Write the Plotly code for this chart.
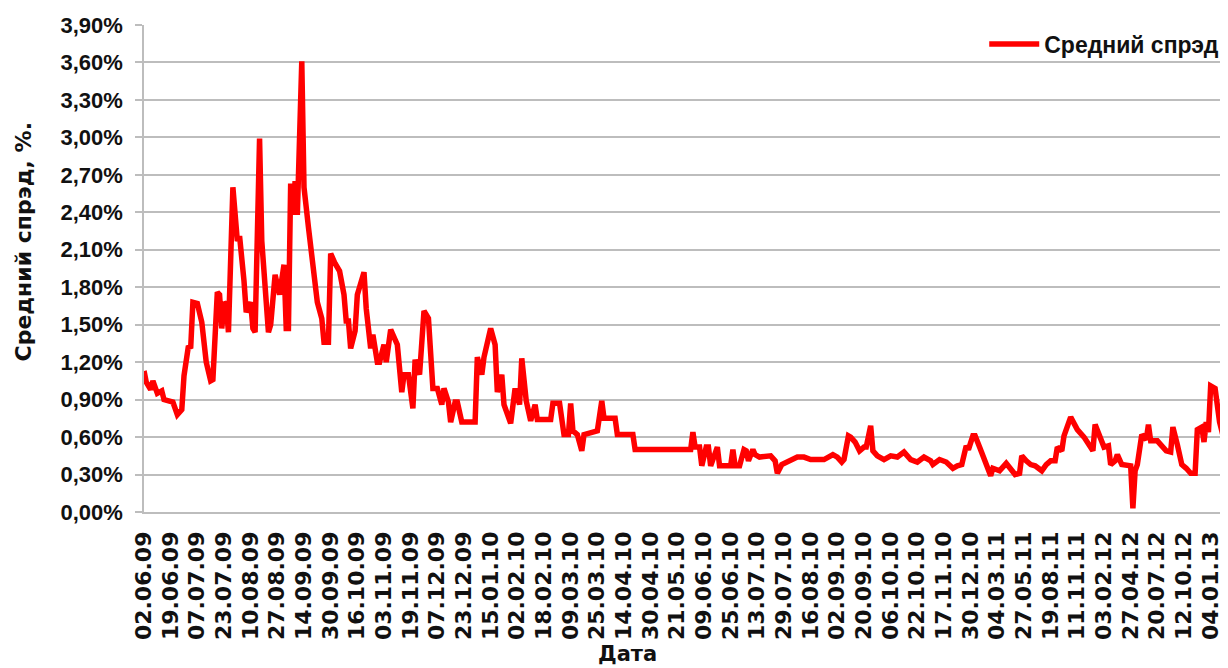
import plotly.graph_objects as go

# Tick labels (one every 12 categories)
tick_labels = [
    "02.06.09", "19.06.09", "07.07.09", "23.07.09", "10.08.09", "27.08.09",
    "14.09.09", "30.09.09", "16.10.09", "03.11.09", "19.11.09", "07.12.09",
    "23.12.09", "15.01.10", "02.02.10", "18.02.10", "09.03.10", "25.03.10",
    "14.04.10", "30.04.10", "21.05.10", "09.06.10", "25.06.10", "13.07.10",
    "29.07.10", "16.08.10", "02.09.10", "20.09.10", "06.10.10", "22.10.10",
    "17.11.10", "30.12.10", "04.03.11", "27.05.11", "19.08.11", "11.11.11",
    "03.02.12", "27.04.12", "20.07.12", "12.10.12", "04.01.13",
]
tick_step = 12
n_categories = 487

# Observation index (category number) and average spread, %
obs_index = [
    0, 1, 3, 4, 6, 8, 9, 12, 13, 15, 17, 18, 20, 21, 22, 24, 26, 28, 30, 31,
    33, 34, 35, 36, 37, 38, 40, 42, 43, 45, 46, 48, 49, 50, 52, 53, 54, 56, 57, 59,
    61, 63, 64, 65, 66, 67, 68, 69, 71, 72, 74, 76, 78, 80, 81, 83, 84, 86, 88, 90,
    91, 92, 93, 95, 96, 99, 100, 102, 103, 105, 106, 108, 109, 111, 114, 116, 117, 119, 121, 122,
    124, 126, 128, 130, 132, 134, 135, 137, 138, 140, 141, 143, 149, 150, 152, 153, 156, 158, 159, 161,
    162, 165, 167, 169, 170, 172, 174, 176, 177, 183, 184, 187, 189, 191, 192, 193, 195, 197, 198, 204,
    206, 207, 212, 213, 220, 221, 246, 247, 248, 250, 251, 253, 254, 255, 257, 258, 259, 264, 265, 266,
    268, 270, 271, 272, 274, 275, 277, 280, 282, 284, 285, 287, 289, 291, 294, 297, 300, 303, 306, 309,
    310, 312, 314, 315, 317, 318, 320, 322, 324, 325, 327, 328, 330, 333, 336, 339, 342, 345, 348, 351,
    354, 355, 358, 361, 364, 366, 368, 370, 371, 373, 374, 376, 378, 381, 382, 385, 388, 390, 392, 394,
    395, 397, 399, 401, 404, 406, 408, 410, 411, 413, 414, 417, 418, 420, 423, 424, 426, 427, 428, 430,
    432, 434, 435, 437, 438, 440, 443, 444, 445, 446, 447, 449, 451, 452, 453, 456, 458, 460, 462, 463,
    465, 467, 469, 471, 473, 474, 476, 477, 478, 479, 480, 482, 484, 486,
]
spread = [
    1.13, 1.04, 0.98, 1.05, 0.95, 0.97, 0.90, 0.89, 0.88, 0.78, 0.82, 1.09, 1.33, 1.31, 1.68, 1.67, 1.52, 1.20, 1.05, 1.06,
    1.76, 1.74, 1.47, 1.68, 1.66, 1.44, 2.60, 2.17, 2.21, 1.85, 1.60, 1.68, 1.47, 1.44, 2.99, 2.17, 1.87, 1.44, 1.50, 1.90,
    1.74, 1.98, 1.47, 1.47, 2.63, 2.38, 2.65, 2.38, 3.61, 2.60, 2.28, 1.95, 1.68, 1.55, 1.36, 1.36, 2.07, 1.99, 1.93, 1.74,
    1.53, 1.53, 1.31, 1.45, 1.74, 1.92, 1.63, 1.31, 1.42, 1.20, 1.20, 1.34, 1.20, 1.46, 1.34, 0.96, 1.10, 1.10, 0.83, 1.22,
    1.10, 1.61, 1.55, 0.99, 0.99, 0.86, 0.99, 0.88, 0.72, 0.88, 0.88, 0.72, 0.72, 1.24, 1.10, 1.24, 1.47, 1.34, 0.96, 1.10,
    0.86, 0.71, 0.99, 0.86, 1.23, 0.89, 0.73, 0.86, 0.74, 0.74, 0.87, 0.87, 0.62, 0.62, 0.87, 0.65, 0.62, 0.49, 0.62, 0.65,
    0.89, 0.75, 0.75, 0.62, 0.62, 0.50, 0.50, 0.64, 0.52, 0.52, 0.37, 0.52, 0.52, 0.37, 0.49, 0.52, 0.37, 0.37, 0.50, 0.37,
    0.37, 0.50, 0.49, 0.41, 0.50, 0.46, 0.44, 0.45, 0.45, 0.41, 0.31, 0.38, 0.40, 0.41, 0.44, 0.44, 0.42, 0.42, 0.42, 0.45,
    0.46, 0.44, 0.40, 0.42, 0.61, 0.60, 0.56, 0.49, 0.52, 0.52, 0.69, 0.49, 0.45, 0.42, 0.45, 0.44, 0.48, 0.42, 0.40, 0.44,
    0.41, 0.38, 0.42, 0.40, 0.35, 0.37, 0.38, 0.53, 0.50, 0.61, 0.61, 0.52, 0.42, 0.29, 0.35, 0.33, 0.39, 0.34, 0.30, 0.31,
    0.45, 0.41, 0.38, 0.37, 0.33, 0.38, 0.41, 0.41, 0.52, 0.49, 0.61, 0.76, 0.72, 0.66, 0.60, 0.57, 0.50, 0.49, 0.70, 0.62,
    0.52, 0.53, 0.38, 0.41, 0.46, 0.38, 0.38, 0.37, 0.03, 0.33, 0.38, 0.62, 0.58, 0.70, 0.57, 0.57, 0.53, 0.49, 0.48, 0.68,
    0.54, 0.38, 0.35, 0.31, 0.31, 0.66, 0.68, 0.56, 0.72, 0.64, 1.01, 0.99, 0.72, 0.58,
]

series_name = "Средний спрэд"
y_title = "Средний спрэд, %."
x_title = "Дата"
y_ticks = [i * 0.3 for i in range(14)]
y_tick_text = [f"{v:.2f}".replace(".", ",") + "%" for v in y_ticks]

GRID = "#bdbdbd"
TXT = "#111111"

fig = go.Figure()
fig.add_trace(go.Scatter(
    x=obs_index, y=spread, mode="lines", name=series_name,
    line=dict(color="#ff0000", width=5.5),
))

# page body adds an 8px offset, so the figure is 8px smaller than the window
fig.update_layout(
    width=1220, height=660,
    margin=dict(l=136, r=4, t=17, b=156),
    paper_bgcolor="white", plot_bgcolor="white",
    showlegend=True,
    legend=dict(
        x=0.778, xanchor="left", y=0.961, yanchor="middle",
        bgcolor="rgba(0,0,0,0)", borderwidth=0,
        font=dict(family="Liberation Sans, Arial", size=23, color=TXT, weight="bold"),
        itemwidth=50,
    ),
    xaxis=dict(
        range=[0, n_categories - 1],
        tickmode="array",
        tickvals=[i * tick_step for i in range(len(tick_labels))],
        ticktext=tick_labels,
        tickangle=-90,
        tickfont=dict(family="DejaVu Sans", size=22, color=TXT, weight="bold"),
        ticks="", showgrid=False, zeroline=False,
        showline=True, linecolor=GRID, linewidth=1.5,
        ticklabelstandoff=9,
        automargin=False,
    ),
    yaxis=dict(
        range=[0, 3.9],
        tickmode="array", tickvals=y_ticks, ticktext=y_tick_text,
        tickfont=dict(family="Liberation Sans, Arial", size=22, color=TXT, weight="bold"),
        ticks="outside", ticklen=7, tickcolor=GRID, tickwidth=1.5,
        showgrid=True, gridcolor=GRID, gridwidth=1.5,
        zeroline=False,
        showline=True, linecolor=GRID, linewidth=1.5,
        ticklabelstandoff=8,
        automargin=False,
    ),
    annotations=[
        dict(text=y_title, xref="paper", yref="paper", x=-0.1118, y=0.556,
             textangle=-90, showarrow=False, xanchor="center", yanchor="middle",
             font=dict(family="DejaVu Sans", size=22, color=TXT, weight="bold")),
        dict(text=x_title, xref="paper", yref="paper", x=0.448, y=-0.292,
             showarrow=False, xanchor="center", yanchor="middle",
             font=dict(family="DejaVu Sans", size=21, color=TXT, weight="bold")),
    ],
)

fig.write_html("out.html")
